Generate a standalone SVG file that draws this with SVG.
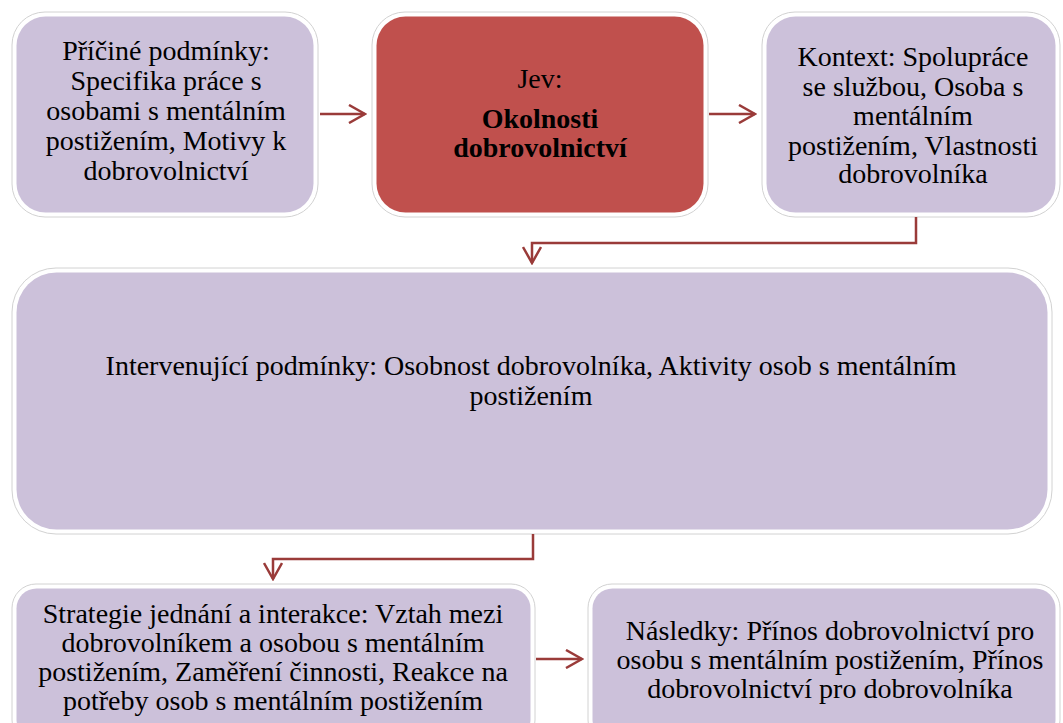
<svg xmlns="http://www.w3.org/2000/svg" width="1063" height="723" viewBox="0 0 1063 723">
<style>
.outer{fill:#ffffff;stroke:#d2d2d2;stroke-width:1}
.lav{fill:#ccc1da}
.red{fill:#c0504d}
.t{font-family:"Liberation Serif","Times New Roman",serif;font-size:28px;fill:#000;text-anchor:middle}
.b{font-weight:bold}
.conn{fill:none;stroke:#9a3b39;stroke-width:2.5}
</style>
<defs>
<marker id="arr" viewBox="0 0 20 20" refX="18" refY="10" markerWidth="20" markerHeight="20" markerUnits="userSpaceOnUse" orient="auto">
<path d="M2,1 L18,10 L2,19" fill="none" stroke="#9a3b39" stroke-width="2.5"/>
</marker>
</defs>
<rect width="1063" height="723" fill="#ffffff"/>
<g id="node-pricine">
<rect class="outer" x="12" y="12" width="306" height="205" rx="33"/>
<rect class="lav" x="16.5" y="16.5" width="297" height="196" rx="29"/>
<text class="t" x="166" y="60">Příčiné podmínky:</text>
<text class="t" x="166" y="90">Specifika práce s</text>
<text class="t" x="166" y="120">osobami s mentálním</text>
<text class="t" x="166" y="150">postižením, Motivy k</text>
<text class="t" x="166" y="180">dobrovolnictví</text>
</g>
<g id="node-jev">
<rect class="outer" x="372" y="12" width="336" height="205" rx="33"/>
<rect class="red" x="376.5" y="16.5" width="327" height="196" rx="29"/>
<text class="t" x="540" y="88">Jev:</text>
<text class="t b" x="540" y="128">Okolnosti</text>
<text class="t b" x="540" y="157">dobrovolnictví</text>
</g>
<g id="node-kontext">
<rect class="outer" x="762" y="12" width="298" height="205" rx="33"/>
<rect class="lav" x="766.5" y="16.5" width="289" height="196" rx="29"/>
<text class="t" x="913" y="66">Kontext: Spolupráce</text>
<text class="t" x="913" y="95.5">se službou, Osoba s</text>
<text class="t" x="913" y="125">mentálním</text>
<text class="t" x="913" y="154.5">postižením, Vlastnosti</text>
<text class="t" x="913" y="183">dobrovolníka</text>
</g>
<g id="node-intervenujici">
<rect class="outer" x="12" y="268" width="1040" height="266" rx="44"/>
<rect class="lav" x="16.5" y="272.5" width="1031" height="257" rx="40"/>
<text class="t" x="531" y="375">Intervenující podmínky: Osobnost dobrovolníka, Aktivity osob s mentálním</text>
<text class="t" x="531" y="405">postižením</text>
</g>
<g id="node-strategie">
<rect class="outer" x="12" y="584" width="523" height="160" rx="24"/>
<rect class="lav" x="16.5" y="588.5" width="514" height="151" rx="20"/>
<text class="t" x="273" y="623">Strategie jednání a interakce: Vztah mezi</text>
<text class="t" x="273" y="652">dobrovolníkem a osobou s mentálním</text>
<text class="t" x="273" y="681">postižením, Zaměření činnosti, Reakce na</text>
<text class="t" x="273" y="710">potřeby osob s mentálním postižením</text>
</g>
<g id="node-nasledky">
<rect class="outer" x="588" y="584" width="472" height="160" rx="24"/>
<rect class="lav" x="592.5" y="588.5" width="463" height="151" rx="20"/>
<text class="t" x="830" y="640">Následky: Přínos dobrovolnictví pro</text>
<text class="t" x="830" y="669">osobu s mentálním postižením, Přínos</text>
<text class="t" x="830" y="698">dobrovolnictví pro dobrovolníka</text>
</g>
<g id="connectors">
<path class="conn" d="M320,114 H365" marker-end="url(#arr)"/>
<path class="conn" d="M709,114 H755" marker-end="url(#arr)"/>
<path class="conn" d="M916,217 V243 H532 V263" marker-end="url(#arr)"/>
<path class="conn" d="M533,534 V559 H273 V579" marker-end="url(#arr)"/>
<path class="conn" d="M536,659 H582" marker-end="url(#arr)"/>
</g>
</svg>
